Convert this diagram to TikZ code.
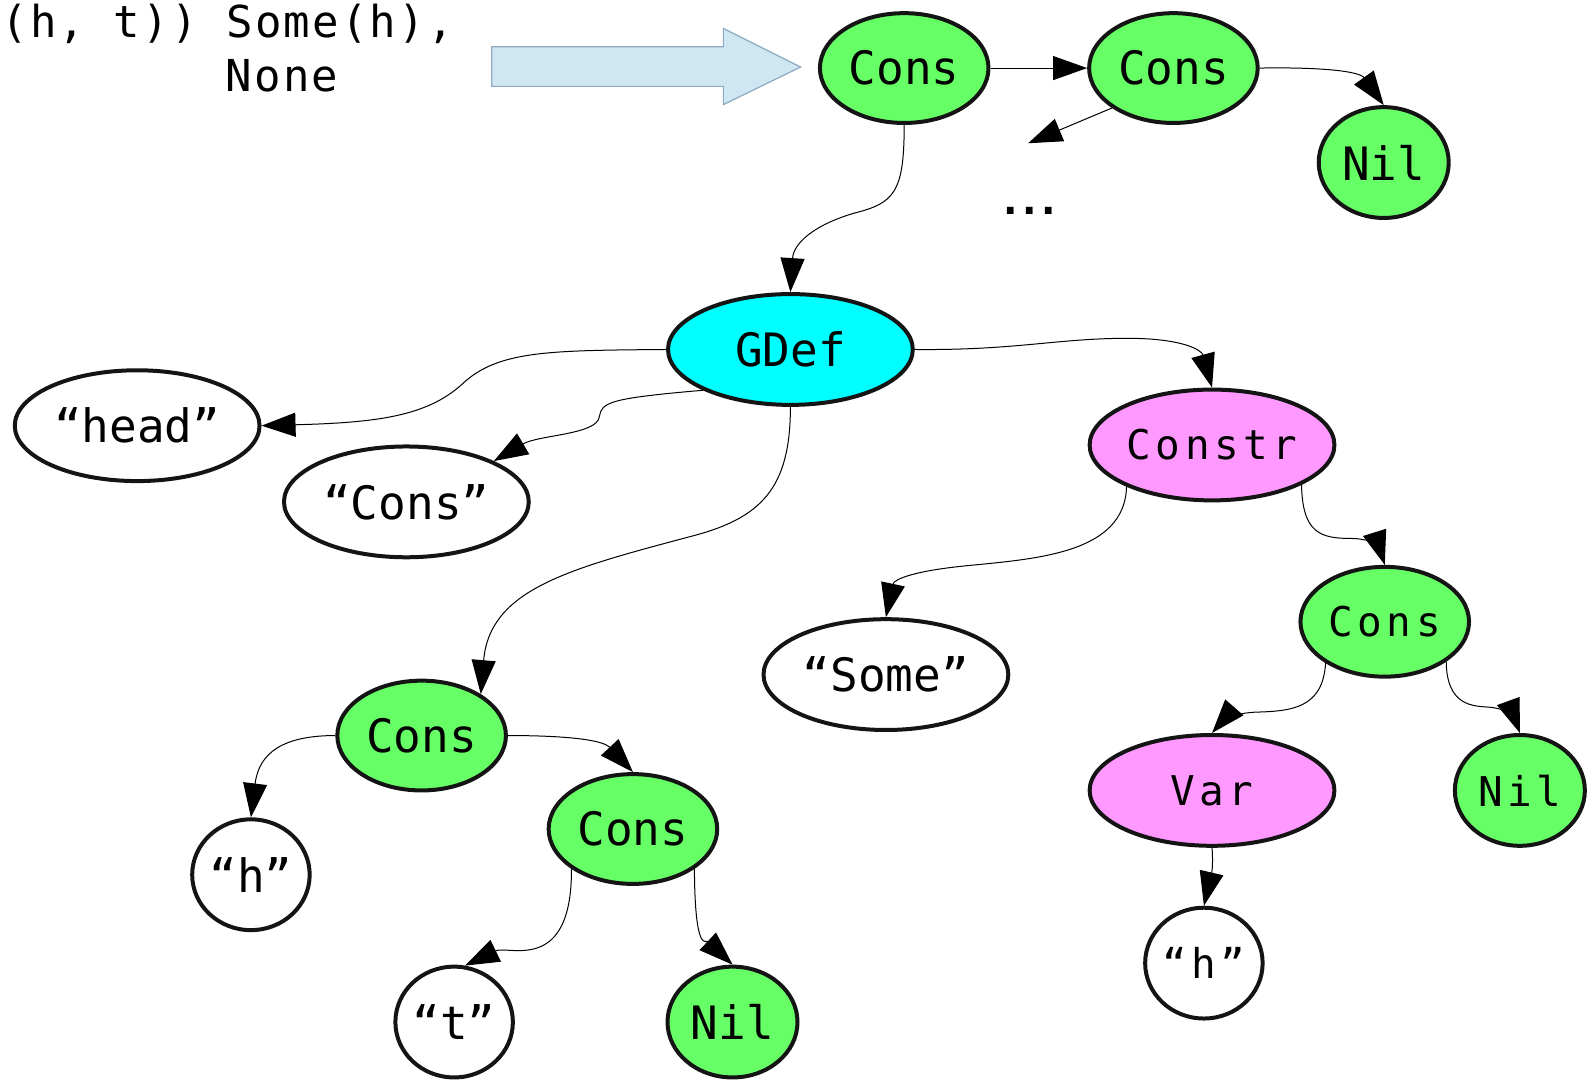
\documentclass[tikz,border=0pt]{standalone}
\usepackage{fontspec}
\usetikzlibrary{shapes.geometric,arrows.meta}
\newfontfamily\monoA{DejaVu Sans Mono}
\newfontfamily\monoB[LetterSpace=11]{DejaVu Sans Mono}
\newfontfamily\monoC[LetterSpace=5]{DejaVu Sans Mono}
\newfontfamily\dotfont[LetterSpace=12]{DejaVu Sans}
\definecolor{consgreen}{HTML}{66FF66}
\definecolor{defcyan}{HTML}{00FFFF}
\definecolor{ctorpink}{HTML}{FF99FF}
\definecolor{blockfill}{HTML}{CFE6F3}
\definecolor{blockedge}{HTML}{8FA9C0}
\begin{document}
\begin{tikzpicture}[x=0.508pt,y=-0.508pt,
  conn/.style={draw=black, line width=0.5pt, -{Triangle[length=17pt,width=12pt]}},
  treenode/.style={ellipse, draw=black!92, line width=2pt, inner sep=0pt,
    font=\monoA\fontsize{23}{27}\selectfont},
  spaced/.style={font=\monoB\fontsize{20.5}{24}\selectfont},
  consshape/.style={treenode, fill=consgreen, minimum width=84.3pt, minimum height=54.9pt},
  nilshape/.style={treenode, fill=consgreen, minimum width=65pt, minimum height=55.4pt},
  wideshape/.style={treenode, minimum width=122.4pt, minimum height=55.4pt},
  roundshape/.style={treenode, minimum width=55.4pt, minimum height=55.4pt},
  codetext/.style={inner sep=0pt, anchor=base west, font=\monoC\fontsize{22}{26}\selectfont}]
\useasboundingbox (0,0) rectangle (1568,1063);

% source text and the block arrow
\node[codetext] (srcA) at (1,37) {(h,\hspace{0.652em}t))\hspace{0.652em}Some(h),};
\node[codetext] (srcB) at (222,90) {None};
\draw[fill=blockfill, draw=blockedge, line width=0.6pt]
  (484,46) -- (712,46) -- (712,28) -- (788,66) -- (712,103) -- (712,85) -- (484,85) -- cycle;

% list spine
\node[consshape] (cons1) at (890,67) {Cons};
\node[consshape] (cons2) at (1155,67) {Cons};
\node[nilshape] (nilT) at (1362,160) {Nil};
\node[inner sep=0pt, font=\dotfont\bfseries\fontsize{19}{22}\selectfont] (dots) at (1014,208) {...};
\coordinate (dotsend) at (1012,141);

% definition tree
\node[wideshape, fill=defcyan] (gdef) at (778,344) {GDef};
\node[wideshape] (head) at (135,419) {“head”};
\node[wideshape] (cstr) at (400,494) {“Cons”};
\node[wideshape, fill=ctorpink, spaced] (constr) at (1193,438) {Constr};
\node[wideshape] (some) at (872,664) {“Some”};
\node[consshape, spaced] (consR) at (1363,612) {Cons};
\node[wideshape, fill=ctorpink, spaced] (var) at (1193,778) {Var};
\node[nilshape, spaced] (nilR) at (1496,778) {Nil};
\node[roundshape, spaced] (hR) at (1185,948) {“h”};
\node[consshape] (consL) at (415,724) {Cons};
\node[roundshape] (hL) at (247,861) {“h”};
\node[consshape] (consM) at (623,816) {Cons};
\node[roundshape] (tq) at (447,1006) {“t”};
\node[nilshape] (nilB) at (721,1006) {Nil};

% connectors
\draw[conn] (cons1.east) -- (cons2.west);
\draw[conn] (cons2.east) .. controls (1300,66) and (1338,70) .. (nilT.north);
\draw[conn] (cons2.213) -- (dotsend);
\draw[conn] (cons1.south) .. controls (890,190) and (880,200) .. (840,210)
  .. controls (800,222) and (781,240) .. (gdef.north);
\draw[conn] (gdef.west) .. controls (540,345) and (490,345) .. (455,378)
  .. controls (420,410) and (370,416) .. (head.east);
\draw[conn] (gdef.205) .. controls (600,392) and (592,396) .. (590,410)
  .. controls (588,428) and (530,428) .. (cstr.25);
\draw[conn] (gdef.south) .. controls (778,480) and (750,510) .. (680,528)
  .. controls (560,560) and (482,580) .. (consL.35);
\draw[conn] (gdef.east) .. controls (1000,345) and (1040,333) .. (1110,333)
  .. controls (1165,333) and (1183,345) .. (constr.north);
\draw[conn] (constr.206) .. controls (1107,545) and (1020,550) .. (950,557)
  .. controls (900,562) and (880,570) .. (some.north);
\draw[conn] (constr.336) .. controls (1282,525) and (1300,530) .. (1330,530)
  .. controls (1350,530) and (1358,540) .. (consR.north);
\draw[conn] (consR.215) .. controls (1302,698) and (1270,700) .. (1235,701)
  .. controls (1215,702) and (1203,710) .. (var.north);
\draw[conn] (consR.327) .. controls (1424,695) and (1450,695) .. (1465,696)
  .. controls (1480,697) and (1490,705) .. (nilR.north);
\draw[conn] (var.south) .. controls (1195,860) and (1190,870) .. (hR.north);
\draw[conn] (consL.west) .. controls (280,724) and (255,740) .. (hL.north);
\draw[conn] (consL.east) .. controls (570,724) and (595,730) .. (consM.north);
\draw[conn] (consM.213) .. controls (563,960) and (500,930) .. (tq.79);
\draw[conn] (consM.327) .. controls (684,940) and (695,925) .. (nilB.north);
\end{tikzpicture}
\end{document}
